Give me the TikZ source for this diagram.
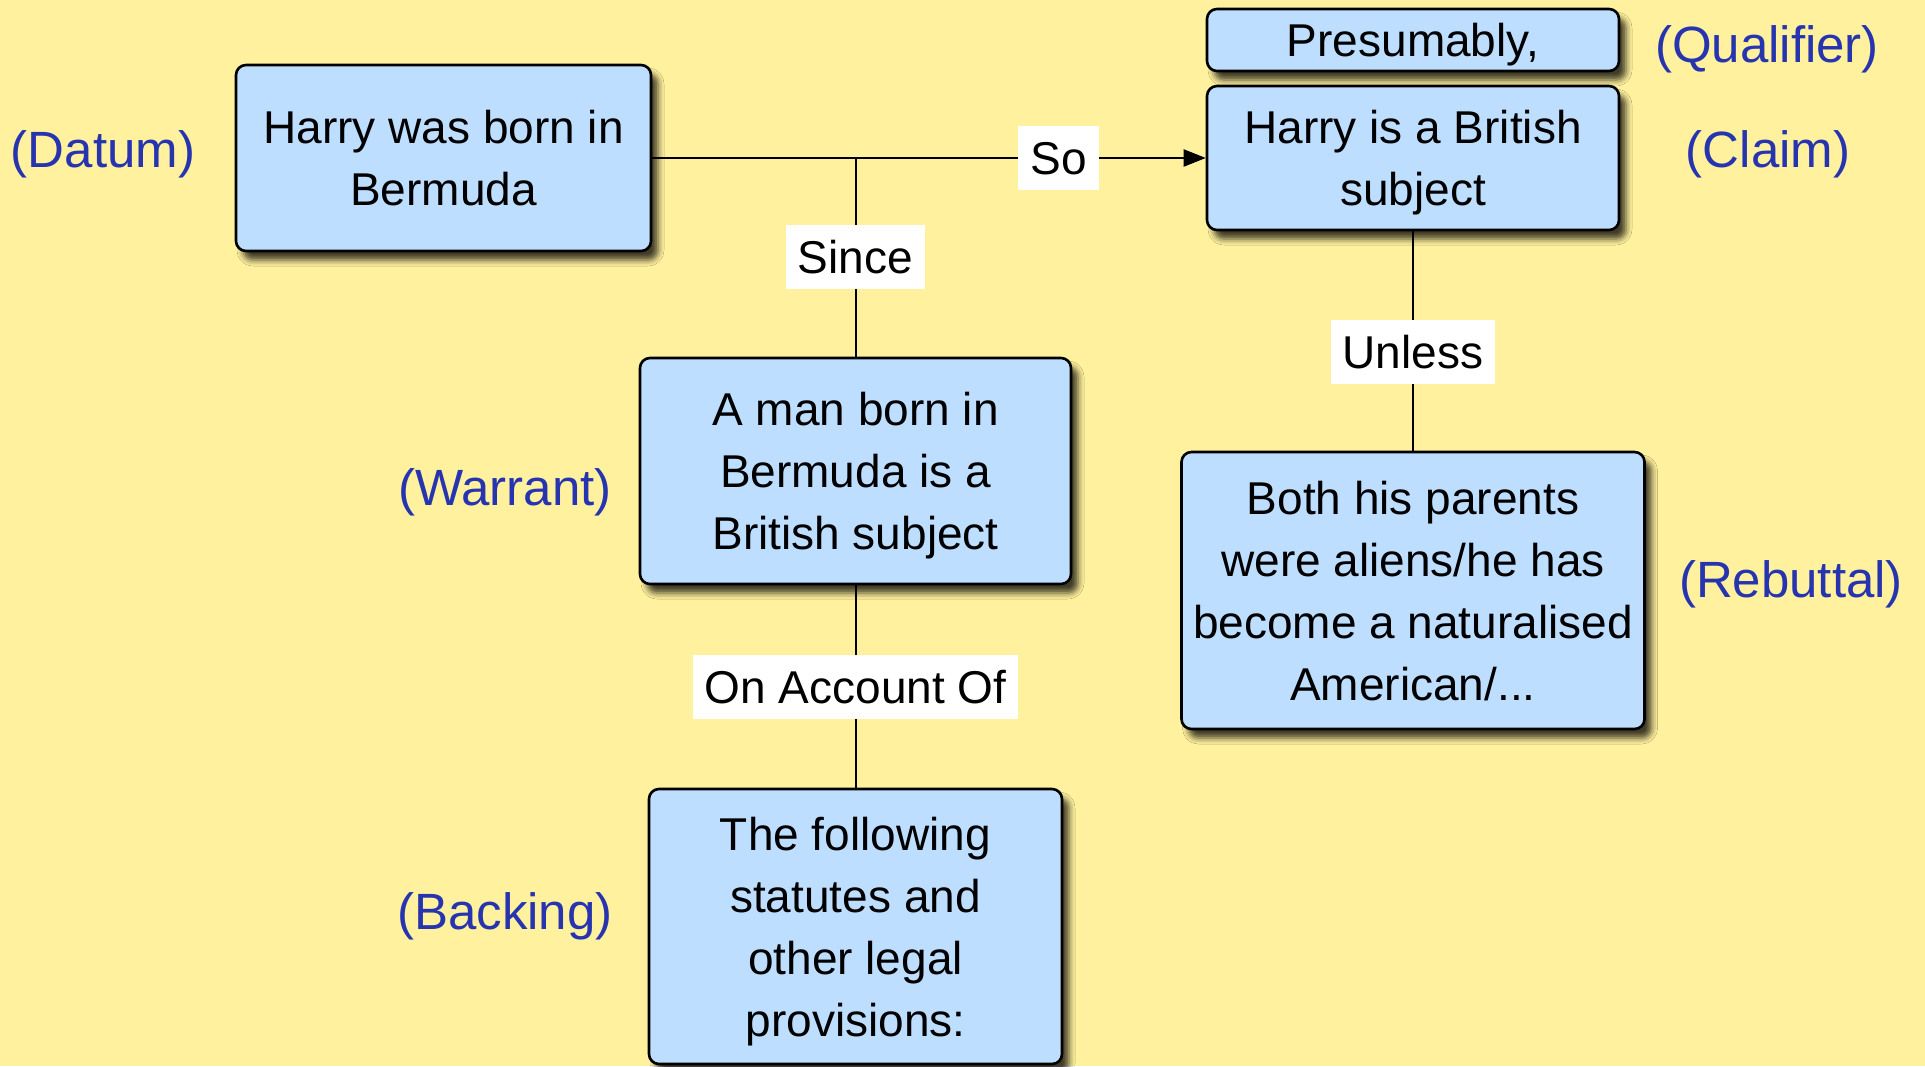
\documentclass[tikz,border=0pt]{standalone}
\usepackage{fontspec}
\setmainfont{Liberation Sans}
\usetikzlibrary{arrows.meta,shadows.blur}
\definecolor{bgyellow}{HTML}{FFF19E}
\definecolor{boxblue}{HTML}{BDDEFF}
\definecolor{rolecol}{HTML}{2734B0}
\begin{document}
\begin{tikzpicture}[x=0.5pt,y=-0.5pt,
  every node/.style={font=\fontsize{23}{31}\selectfont},
  part/.style={draw=black, line width=1.3pt, fill=boxblue, rounded corners=5pt,
    align=center, inner sep=0pt, text depth=0pt,
    blur shadow={shadow xshift=3.5pt, shadow yshift=-4.5pt,
      shadow blur radius=3pt, shadow opacity=75}},
  % text box heights so that the lines sit centred by their capitals
  oneline/.style={text height=16.5pt},
  twolines/.style={text height=47.5pt},
  threelines/.style={text height=78.5pt},
  fourlines/.style={text height=109.5pt},
  role/.style={text=rolecol, font=\fontsize{25.5}{31}\selectfont,
    text height=18.3pt, text depth=0pt},
  link/.style={line width=1pt},
  word/.style={fill=white, inner xsep=6pt, inner ysep=0pt, minimum height=32pt,
    text height=16.5pt, text depth=0pt}
]
% page background
\fill[bgyellow] (0,0) rectangle (1925,1066);
\useasboundingbox (0,0) rectangle (1925,1066);

% argument parts
\node[part, twolines, minimum width=207.5pt, minimum height=93pt] (datum) at (443.5,158)
  {Harry was born in\\Bermuda};
\node[part, oneline, minimum width=206pt, minimum height=31pt] (qual) at (1413,40)
  {Presumably,};
\node[part, twolines, minimum width=206pt, minimum height=72pt] (claim) at (1413,158)
  {Harry is a British\\subject};
\node[part, threelines, minimum width=215.5pt, minimum height=113pt] (warrant) at (855.5,471)
  {A man born in\\Bermuda is a\\British subject};
\node[part, fourlines, minimum width=206.5pt, minimum height=137.5pt] (backing) at (855.5,926.5)
  {The following\\statutes and\\other legal\\provisions:};
\node[part, fourlines, minimum width=231.5pt, minimum height=138.5pt] (rebuttal) at (1413,590.5)
  {Both his parents\\were aliens/he has\\become a naturalised\\American/...};

% role names
\node[role] (datumlbl) at (103,149) {(Datum)};
\node[role] (quallbl) at (1767,44) {(Qualifier)};
\node[role] (claimlbl) at (1768,149) {(Claim)};
\node[role] (warrantlbl) at (505,487) {(Warrant)};
\node[role] (backinglbl) at (505,911) {(Backing)};
\node[role] (rebuttallbl) at (1791,579) {(Rebuttal)};

% connectors
\coordinate (fork) at (855.5,158);
\draw[link, -{Triangle[length=11pt,width=8.5pt]}] (datum.east) --
  node[word, pos=0.734] (so) {So} (claim.west);
\draw[link] (fork) -- node[word] (since) {Since} (warrant.north);
\draw[link] (warrant.south) -- node[word] (acct) {On Account Of} (backing.north);
\draw[link] (claim.south) -- node[word, pos=0.55] (unless) {Unless} (rebuttal.north);
\end{tikzpicture}
\end{document}
